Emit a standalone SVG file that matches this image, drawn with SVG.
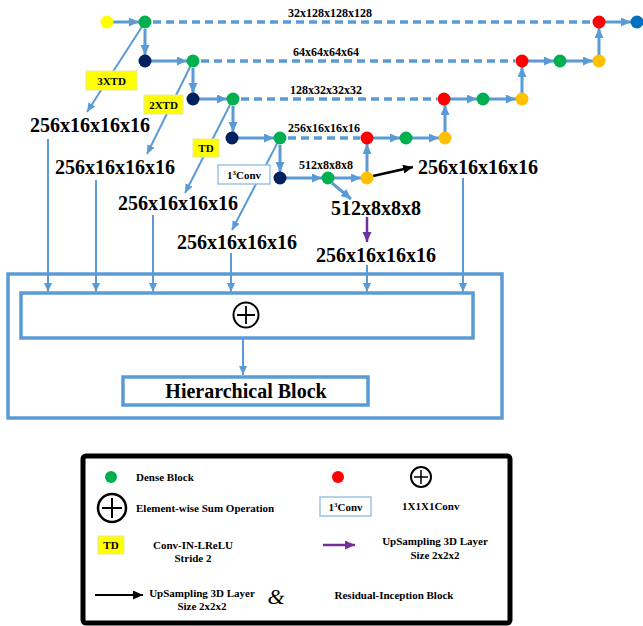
<svg xmlns="http://www.w3.org/2000/svg" width="643" height="626" viewBox="0 0 643 626">
<defs>
<style>
.b{stroke:#5B9BD5;stroke-width:3;fill:none}
.bt{stroke:#5B9BD5;stroke-width:2;fill:none}
.d{stroke:#5B9BD5;stroke-width:3.5;stroke-dasharray:8 5;fill:none}
.t{font-family:"Liberation Serif","Times New Roman",serif;font-weight:bold;fill:#000}
.big{font-size:20px}
.sm{font-size:12px}
.lg{font-size:11px}
.g{fill:#00B050}.r{fill:#FF0000}.o{fill:#FFC000}.n{fill:#002060}.y{fill:#FFFF00}
.yb{fill:#FFFF00;stroke:#E8E8A0;stroke-width:1}
</style>
<marker id="ah" markerUnits="userSpaceOnUse" markerWidth="11" markerHeight="10" refX="10" refY="4.5" orient="auto"><path d="M0,0 L10,4.5 L0,9 z" fill="#5B9BD5"/></marker>
<marker id="ahs" markerUnits="userSpaceOnUse" markerWidth="10" markerHeight="9" refX="9" refY="4" orient="auto"><path d="M0,0 L9,4 L0,8 z" fill="#5B9BD5"/></marker>
<marker id="ahk" markerUnits="userSpaceOnUse" markerWidth="11" markerHeight="10" refX="10" refY="4.5" orient="auto"><path d="M0,0 L10,4.5 L0,9 z" fill="#000"/></marker>
<marker id="ahp" markerUnits="userSpaceOnUse" markerWidth="11" markerHeight="10" refX="10" refY="4.5" orient="auto"><path d="M0,0 L10,4.5 L0,9 z" fill="#7030A0"/></marker>
</defs>
<rect width="643" height="626" fill="#fff"/>

<g id="connectors">
<!-- row 1 -->
<line class="b" x1="113" y1="22" x2="139" y2="22" marker-end="url(#ah)"/>
<line class="b" x1="145" y1="29" x2="145" y2="55" marker-end="url(#ah)"/>
<line class="d" x1="153" y1="22" x2="592" y2="22"/>
<line class="b" x1="605" y1="22" x2="631" y2="22" marker-end="url(#ah)"/>
<!-- row 2 -->
<line class="b" x1="151" y1="61" x2="187" y2="61" marker-end="url(#ah)"/>
<line class="b" x1="193" y1="68" x2="193" y2="93" marker-end="url(#ah)"/>
<line class="d" x1="201" y1="61" x2="515" y2="61"/>
<line class="b" x1="528" y1="61" x2="554" y2="61" marker-end="url(#ah)"/>
<line class="b" x1="566" y1="61" x2="593" y2="61" marker-end="url(#ah)"/>
<line class="b" x1="599" y1="55" x2="599" y2="28" marker-end="url(#ah)"/>
<!-- row 3 -->
<line class="b" x1="199" y1="99" x2="227" y2="99" marker-end="url(#ah)"/>
<line class="b" x1="233" y1="106" x2="233" y2="132" marker-end="url(#ah)"/>
<line class="d" x1="241" y1="99" x2="437" y2="99"/>
<line class="b" x1="450" y1="99" x2="477" y2="99" marker-end="url(#ah)"/>
<line class="b" x1="489" y1="99" x2="516" y2="99" marker-end="url(#ah)"/>
<line class="b" x1="522" y1="93" x2="522" y2="67" marker-end="url(#ah)"/>
<!-- row 4 -->
<line class="b" x1="238" y1="138" x2="274" y2="138" marker-end="url(#ah)"/>
<line class="b" x1="280" y1="145" x2="280" y2="172" marker-end="url(#ah)"/>
<line class="d" x1="288" y1="138" x2="360" y2="138"/>
<line class="b" x1="373" y1="138" x2="400" y2="138" marker-end="url(#ah)"/>
<line class="b" x1="412" y1="138" x2="439" y2="138" marker-end="url(#ah)"/>
<line class="b" x1="445" y1="132" x2="445" y2="105" marker-end="url(#ah)"/>
<!-- row 5 -->
<line class="b" x1="286" y1="178" x2="322" y2="178" marker-end="url(#ah)"/>
<line class="b" x1="334" y1="178" x2="361" y2="178" marker-end="url(#ah)"/>
<line class="b" x1="367" y1="172" x2="367" y2="144" marker-end="url(#ah)"/>
<line x1="373" y1="176" x2="413" y2="167" stroke="#000" stroke-width="2.5" marker-end="url(#ahk)"/>
<line class="b" x1="332" y1="183" x2="351" y2="199" marker-end="url(#ah)"/>
<line x1="367" y1="217" x2="367" y2="242" stroke="#7030A0" stroke-width="2.5" marker-end="url(#ahp)"/>
<!-- diagonals -->
<line class="bt" x1="145" y1="22" x2="87" y2="112" marker-end="url(#ahs)"/>
<line class="bt" x1="193" y1="61" x2="147" y2="154" marker-end="url(#ahs)"/>
<line class="bt" x1="233" y1="99" x2="185" y2="193" marker-end="url(#ahs)"/>
<line class="bt" x1="280" y1="138" x2="232" y2="230" marker-end="url(#ahs)"/>
<!-- down into sum -->
<line class="bt" x1="48" y1="139" x2="48" y2="292" marker-end="url(#ahs)"/>
<line class="bt" x1="96" y1="180" x2="96" y2="292" marker-end="url(#ahs)"/>
<line class="bt" x1="153" y1="215" x2="153" y2="292" marker-end="url(#ahs)"/>
<line class="bt" x1="231" y1="253" x2="231" y2="292" marker-end="url(#ahs)"/>
<line class="bt" x1="367" y1="265" x2="367" y2="292" marker-end="url(#ahs)"/>
<line class="bt" x1="463" y1="178" x2="463" y2="292" marker-end="url(#ahs)"/>
<line class="bt" x1="243" y1="339" x2="243" y2="375" marker-end="url(#ahs)"/>
</g>

<g id="nodes">
<circle id="n-in" class="y" cx="107" cy="22" r="6.5"/>
<circle id="n-g1" class="g" cx="145" cy="22" r="6.5"/>
<circle id="n-r1" class="r" cx="599" cy="22" r="6.5"/>
<circle id="n-out" cx="637" cy="22" r="6.5" fill="#0070C0"/>
<circle id="n-n2" class="n" cx="145" cy="61" r="6.5"/>
<circle id="n-g2" class="g" cx="193" cy="61" r="6.5"/>
<circle id="n-r2" class="r" cx="522" cy="61" r="6.5"/>
<circle id="n-g2b" class="g" cx="560" cy="61" r="6.5"/>
<circle id="n-o2" class="o" cx="599" cy="61" r="6.5"/>
<circle id="n-n3" class="n" cx="193" cy="99" r="6.5"/>
<circle id="n-g3" class="g" cx="233" cy="99" r="6.5"/>
<circle id="n-r3" class="r" cx="444" cy="99" r="6.5"/>
<circle id="n-g3b" class="g" cx="483" cy="99" r="6.5"/>
<circle id="n-o3" class="o" cx="522" cy="99" r="6.5"/>
<circle id="n-n4" class="n" cx="232" cy="138" r="6.5"/>
<circle id="n-g4" class="g" cx="280" cy="138" r="6.5"/>
<circle id="n-r4" class="r" cx="367" cy="138" r="6.5"/>
<circle id="n-g4b" class="g" cx="406" cy="138" r="6.5"/>
<circle id="n-o4" class="o" cx="445" cy="138" r="6.5"/>
<circle id="n-n5" class="n" cx="280" cy="178" r="6.5"/>
<circle id="n-g5" class="g" cx="328" cy="178" r="6.5"/>
<circle id="n-o5" class="o" cx="367" cy="178" r="6.5"/>
</g>

<g id="labels">
<text class="t sm" x="330" y="17" text-anchor="middle">32x128x128x128</text>
<text class="t sm" x="326" y="56" text-anchor="middle">64x64x64x64</text>
<text class="t sm" x="326" y="94" text-anchor="middle">128x32x32x32</text>
<text class="t sm" x="324" y="132" text-anchor="middle">256x16x16x16</text>
<text class="t sm" x="326" y="169" text-anchor="middle">512x8x8x8</text>
<text class="t big" x="90" y="132" text-anchor="middle">256x16x16x16</text>
<text class="t big" x="115" y="174" text-anchor="middle">256x16x16x16</text>
<text class="t big" x="178" y="210" text-anchor="middle">256x16x16x16</text>
<text class="t big" x="237" y="249" text-anchor="middle">256x16x16x16</text>
<text class="t big" x="478" y="174" text-anchor="middle">256x16x16x16</text>
<text class="t big" x="376" y="215" text-anchor="middle">512x8x8x8</text>
<text class="t big" x="376" y="262" text-anchor="middle">256x16x16x16</text>
</g>

<g id="td3"><rect class="yb" x="86" y="71" width="51" height="19"/><text class="t lg" x="111.5" y="84.5" text-anchor="middle">3XTD</text></g>
<g id="td2"><rect class="yb" x="144" y="95" width="39" height="19"/><text class="t lg" x="163.5" y="108.5" text-anchor="middle">2XTD</text></g>
<g id="td1"><rect class="yb" x="193" y="139" width="26" height="18"/><text class="t lg" x="206" y="152" text-anchor="middle">TD</text></g>
<g id="conv1"><rect x="218" y="165" width="52" height="19" fill="#fff" stroke="#9DC3E6" stroke-width="1.5"/><text class="t lg" x="244" y="179" text-anchor="middle">1<tspan font-size="7" dy="-4">3</tspan><tspan dy="4">Conv</tspan></text></g>

<g id="hblock">
<rect x="8" y="274" width="494" height="144" fill="none" stroke="#5B9BD5" stroke-width="3.5"/>
<rect id="sum" x="21" y="293" width="452" height="45" fill="none" stroke="#5B9BD5" stroke-width="3.5"/>
<circle cx="246" cy="315" r="12.5" fill="#fff" stroke="#000" stroke-width="2"/>
<path d="M246,306 V324 M237,315 H255" stroke="#000" stroke-width="1.8"/>
<rect id="hier" x="123" y="377" width="245" height="28" fill="none" stroke="#5B9BD5" stroke-width="3.5"/>
<text class="t" font-size="20" x="246" y="398" text-anchor="middle">Hierarchical Block</text>
</g>

<g id="legend">
<rect x="83" y="456" width="427" height="167" rx="3" fill="none" stroke="#000" stroke-width="5"/>
<circle class="g" cx="111" cy="477" r="6"/>
<text class="t lg" x="136" y="481">Dense Block</text>
<circle class="r" cx="338" cy="477" r="6"/>
<circle cx="421" cy="477" r="10" fill="#fff" stroke="#000" stroke-width="2"/>
<path d="M421,470 V484 M414,477 H428" stroke="#000" stroke-width="1.5"/>
<circle cx="112" cy="508" r="14" fill="#fff" stroke="#000" stroke-width="2.5"/>
<path d="M112,498 V518 M102,508 H122" stroke="#000" stroke-width="2"/>
<text class="t lg" x="136" y="512">Element-wise Sum Operation</text>
<rect x="320" y="497" width="51" height="19" fill="#fff" stroke="#9DC3E6" stroke-width="1.5"/>
<text class="t lg" x="345.5" y="511" text-anchor="middle">1<tspan font-size="7" dy="-4">3</tspan><tspan dy="4">Conv</tspan></text>
<text class="t lg" x="402" y="510">1X1X1Conv</text>
<rect class="yb" x="98" y="536" width="26" height="18"/>
<text class="t lg" x="111" y="549" text-anchor="middle">TD</text>
<text class="t lg" x="193" y="549" text-anchor="middle">Conv-IN-LReLU</text>
<text class="t lg" x="193" y="562" text-anchor="middle">Stride 2</text>
<line x1="323" y1="545" x2="355" y2="545" stroke="#7030A0" stroke-width="2.5" marker-end="url(#ahp)"/>
<text class="t lg" x="435" y="545" text-anchor="middle">UpSampling 3D Layer</text>
<text class="t lg" x="435" y="559" text-anchor="middle">Size 2x2x2</text>
<line x1="95" y1="595" x2="143" y2="595" stroke="#000" stroke-width="2" marker-end="url(#ahk)"/>
<text class="t lg" x="202" y="597" text-anchor="middle">UpSampling 3D Layer</text>
<text class="t lg" x="202" y="610" text-anchor="middle">Size 2x2x2</text>
<text x="276" y="604" text-anchor="middle" font-family="'Liberation Serif',serif" font-style="italic" font-size="22">&amp;</text>
<text class="t lg" x="394" y="599" text-anchor="middle">Residual-Inception Block</text>
</g>
</svg>
